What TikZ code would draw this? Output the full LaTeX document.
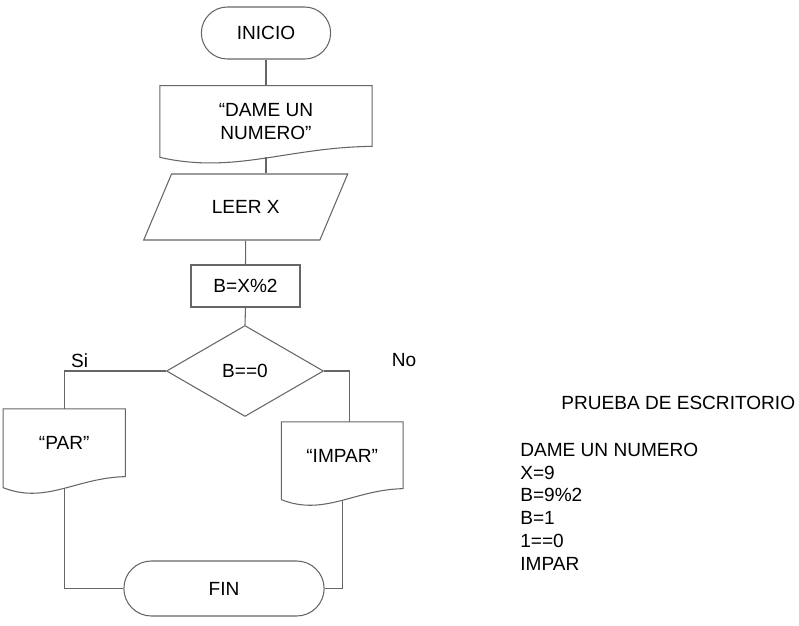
\documentclass[tikz,border=0pt]{standalone}
\usepackage{fontspec}
\setmainfont{Liberation Sans}
\usetikzlibrary{shapes.geometric,shapes.misc,calc}

% contorno de documento (fondo ondulado)
\newcommand{\hoja}[1]{%
	\draw[linea] (#1.north west) -- (#1.north east) -- ([yshift=0.22cm]#1.south east)
		.. controls ($(#1.south west)!0.6!(#1.south east)+(0,0.2cm)$) and ($(#1.south west)!0.35!(#1.south east)+(0,-0.34cm)$) .. (#1.south west) -- cycle;}

\begin{document}
\begin{tikzpicture}[x=0.02cm,y=-0.02cm,font=\fontsize{10.85pt}{13pt}\selectfont,
	linea/.style={draw=black!60,line width=0.6pt},
	term/.style={rounded rectangle,linea},
	proc/.style={rectangle,linea,minimum width=2.18cm,minimum height=0.84cm},
	doc/.style={rectangle,inner sep=0,align=center},
	etiq/.style={inner sep=0}]
\fill[white] (0,0) rectangle (799,626);
\useasboundingbox (0,0) rectangle (799,626);

\node [term,minimum width=2.82cm,minimum height=1.04cm] (inicio) at (266,33) {INICIO};
\node [doc,minimum width=4.23cm,minimum height=1.42cm] (dame) at (266,121.5) {“DAME UN\\NUMERO”};
\hoja{dame}
\node [trapezium,trapezium left angle=59,trapezium right angle=121,trapezium stretches=true,
	minimum width=4.1cm,minimum height=1.32cm,linea] (leer) at (245.7,207) {LEER X};
\node [proc] (bx) at (245.5,286) {B=X\%2};
\node [diamond,linea,inner sep=0,minimum width=3.14cm,minimum height=1.82cm] (cond) at (245,371) {B==0};
\node [etiq] (si) at (79.7,361) {Si};
\node [etiq] (no) at (404,360) {No};
\node [doc,minimum width=2.43cm,minimum height=1.56cm,text depth=0.2cm] (par) at (64.2,448.3) {“PAR”};
\hoja{par}
\node [doc,minimum width=2.42cm,minimum height=1.54cm,text depth=0.2cm] (impar) at (342.2,460.8) {“IMPAR”};
\hoja{impar}
\node [term,minimum width=4.24cm,minimum height=1.1cm] (fin) at (224,588.5) {FIN};

\draw[linea] (inicio.south) -- (dame.north);
\draw[linea] (dame.south) -- (dame.south |- leer.north);
\draw[linea] (leer.south) -- (bx.north);
\draw[linea] (bx.south) -- (cond.north);
\draw[linea] (cond.west) -| (par.north);
\draw[linea] (cond.east) -| ([xshift=0.14cm]impar.north);
\draw[linea] (par.south) |- (fin.west);
\draw[linea] (impar.south) |- (fin.east);

% prueba de escritorio
\node [etiq,anchor=base west] (titulo) at (561,409) {PRUEBA DE ESCRITORIO};
\node [etiq,anchor=north west,align=left] (prueba) at (520,442.5) {DAME UN NUMERO\\X=9\\B=9\%2\\B=1\\1==0\\IMPAR};
\end{tikzpicture}
\end{document}
